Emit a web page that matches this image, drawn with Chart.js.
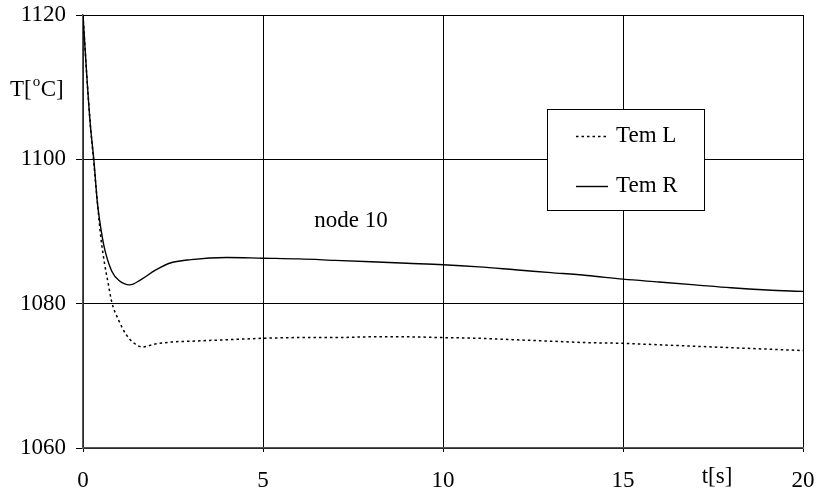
<!DOCTYPE html>
<html>
<head>
<meta charset="utf-8">
<script src="https://cdn.jsdelivr.net/npm/chart.js@4/dist/chart.umd.min.js"></script>
<style>
html,body{margin:0;padding:0;background:#fff;}
#wrap{width:816px;height:497px;position:relative;}
</style>
</head>
<body>
<div id="wrap"><canvas id="c" width="816" height="497"></canvas></div>
<script>
// Data
const timeL = [0, 0.1, 0.2, 0.3, 0.4, 0.5, 0.6, 0.7, 0.8, 1.0, 1.2, 1.4, 1.65, 2.0, 2.5, 3, 4, 5, 6, 7, 8, 9, 10, 11, 12, 13, 14, 15, 16, 17, 18, 19, 20];
const temL  = [1120, 1112, 1105, 1099.5, 1094, 1089, 1085.5, 1082.8, 1080.2, 1077.6, 1075.7, 1074.6, 1074.0, 1074.4, 1074.7, 1074.8, 1075.0, 1075.2, 1075.3, 1075.3, 1075.4, 1075.4, 1075.3, 1075.2, 1075.0, 1074.8, 1074.6, 1074.5, 1074.3, 1074.1, 1073.9, 1073.7, 1073.5];
const timeR = [0, 0.1, 0.2, 0.3, 0.4, 0.5, 0.6, 0.8, 1.0, 1.3, 1.6, 2.0, 2.4, 3, 4, 5, 6, 7, 8, 9, 10, 11, 12, 13, 14, 15, 16, 17, 18, 19, 20];
const temR  = [1120, 1112, 1105, 1100, 1094, 1090.3, 1087.6, 1084.5, 1083.2, 1082.6, 1083.3, 1084.6, 1085.6, 1086.1, 1086.4, 1086.3, 1086.2, 1086.0, 1085.8, 1085.6, 1085.4, 1085.1, 1084.7, 1084.3, 1083.9, 1083.4, 1083.0, 1082.6, 1082.2, 1081.9, 1081.7];
const seriesNames = ["Tem L", "Tem R"];
const xTicks = [0, 5, 10, 15, 20];
const yTicks = [1060, 1080, 1100, 1120];
const xTitle = "t[s]";
const yTitle = ["T[", "o", "C]"];
const note = "node 10";

const FONT = '"Liberation Serif", "Times New Roman", serif';
const FS = 23;

const toPts = (xs, ys) => xs.map((x, i) => ({x: x, y: ys[i]}));
const noPad = s => { s.paddingTop = 0; s.paddingBottom = 0; s.paddingLeft = 0; s.paddingRight = 0; };

const overlay = {
  id: 'overlay',
  afterDraw(chart) {
    const ctx = chart.ctx;
    ctx.save();
    ctx.fillStyle = '#000';
    ctx.textBaseline = 'alphabetic';
    ctx.textAlign = 'left';
    ctx.font = FS + 'px ' + FONT;
    let x0 = 10, yb = 96;
    ctx.fillText(yTitle[0], x0, yb);
    let w0 = ctx.measureText(yTitle[0]).width;
    ctx.font = '15px ' + FONT;
    ctx.fillText(yTitle[1], x0 + w0 + 1, yb - 10);
    let w1 = ctx.measureText(yTitle[1]).width;
    ctx.font = FS + 'px ' + FONT;
    ctx.fillText(yTitle[2], x0 + w0 + w1 + 1.5, yb);
    ctx.textAlign = 'center';
    ctx.textBaseline = 'middle';
    ctx.fillText(xTitle, 717, 477);
    ctx.fillText(note, 351, 221);
    const bx = 547, by = 109, bw = 157, bh = 101;
    ctx.fillStyle = '#fff';
    ctx.fillRect(bx, by, bw, bh);
    ctx.strokeStyle = '#000';
    ctx.lineWidth = 1;
    ctx.strokeRect(bx + 0.5, by + 0.5, bw, bh);
    const ds = chart.data.datasets;
    const rows = [136, 186];
    ds.forEach((d, i) => {
      ctx.beginPath();
      ctx.strokeStyle = d.borderColor;
      ctx.lineWidth = d.borderWidth;
      ctx.setLineDash(d.borderDash || []);
      ctx.moveTo(576, rows[i] + 0.5);
      ctx.lineTo(608, rows[i] + 0.5);
      ctx.stroke();
      ctx.setLineDash([]);
      ctx.fillStyle = '#000';
      ctx.textAlign = 'left';
      ctx.textBaseline = 'middle';
      ctx.font = FS + 'px ' + FONT;
      ctx.fillText(d.label, 616, rows[i]);
    });
    ctx.restore();
  }
};

new Chart(document.getElementById('c'), {
  type: 'line',
  data: {
    datasets: [
      {label: seriesNames[0], data: toPts(timeL, temL), borderColor: '#000', borderWidth: 1.5, borderDash: [2.5, 3], pointRadius: 0, cubicInterpolationMode: 'monotone', fill: false},
      {label: seriesNames[1], data: toPts(timeR, temR), borderColor: '#000', borderWidth: 1.4, pointRadius: 0, cubicInterpolationMode: 'monotone', fill: false}
    ]
  },
  options: {
    responsive: false,
    animation: false,
    events: [],
    layout: {padding: {top: 15, right: 13, left: 0, bottom: 0}},
    plugins: {legend: {display: false}, tooltip: {enabled: false}},
    scales: {
      x: {
        type: 'linear', min: 0, max: 20,
        afterBuildTicks: s => { s.ticks = xTicks.map(v => ({value: v})); },
        afterFit: s => { s.height = 49; noPad(s); },
        grid: {color: '#000', lineWidth: 1, tickLength: 4, tickColor: '#000'},
        border: {color: '#555', width: 1.5},
        ticks: {color: '#000', font: {family: FONT, size: FS}, padding: 15, maxRotation: 0, autoSkip: false, callback: v => String(v)}
      },
      y: {
        min: 1060, max: 1120,
        afterBuildTicks: s => { s.ticks = yTicks.map(v => ({value: v})); },
        afterFit: s => { s.width = 83; noPad(s); },
        grid: {color: '#000', lineWidth: 1, tickLength: 7, tickColor: '#000'},
        border: {color: '#555', width: 1.5},
        ticks: {color: '#000', font: {family: FONT, size: FS}, padding: 10, autoSkip: false, callback: v => String(v)}
      }
    }
  },
  plugins: [overlay]
});
</script>
</body>
</html>
